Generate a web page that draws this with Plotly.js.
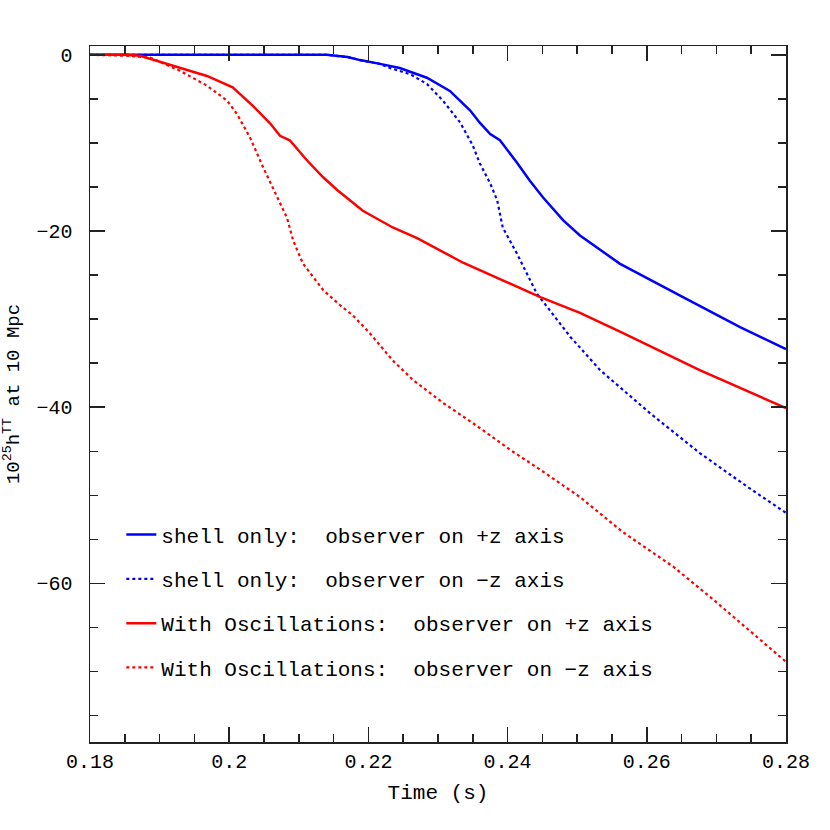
<!DOCTYPE html>
<html>
<head>
<meta charset="utf-8">
<script src="https://cdn.plot.ly/plotly-3.0.1.min.js"></script>
<style>html,body{margin:0;padding:0;background:#fff;}#chart{width:830px;height:830px;}</style>
</head>
<body>
<div id="chart"></div>
<script>
// Time (s) and 10^25 h^TT at 10 Mpc
const shellPlusT = [0.180,0.200,0.2140,0.2170,0.2188,0.2215,0.2245,0.2284,0.2317,0.2346,0.2360,0.2375,0.2389,0.2413,0.2432,0.2451,0.2480,0.2504,0.2561,0.2652,0.2734,0.2800];
const shellPlusV = [0,0,0,-0.25,-0.6,-1.0,-1.5,-2.6,-4.1,-6.3,-7.7,-9.0,-9.7,-12.2,-14.3,-16.2,-18.8,-20.5,-23.7,-27.5,-30.9,-33.4];

const shellMinusT = [0.180,0.200,0.2140,0.2170,0.2188,0.2215,0.2231,0.2260,0.2284,0.2307,0.2332,0.2350,0.2360,0.2375,0.2385,0.2393,0.2413,0.2442,0.2490,0.2533,0.2605,0.2676,0.2744,0.2800];
const shellMinusV = [0,0,0,-0.25,-0.6,-1.0,-1.5,-2.2,-3.3,-5.2,-7.7,-10.3,-12.3,-14.6,-16.5,-19.6,-22.5,-27.1,-32.0,-35.8,-40.7,-45.2,-49.0,-52.0];

const oscPlusT = [0.180,0.1850,0.1872,0.1919,0.1968,0.2005,0.2034,0.2059,0.2073,0.2087,0.2112,0.2135,0.2156,0.2192,0.2235,0.2270,0.2336,0.2393,0.2447,0.2504,0.2566,0.2676,0.2800];
const oscPlusV = [0,0,-0.1,-1.2,-2.4,-3.7,-5.8,-7.8,-9.2,-9.7,-12.0,-13.9,-15.4,-17.7,-19.6,-20.8,-23.6,-25.6,-27.5,-29.3,-31.6,-35.8,-40.1];

const oscMinusT = [0.180,0.1850,0.1886,0.1929,0.1968,0.1997,0.2011,0.2030,0.2049,0.2069,0.2083,0.2092,0.2106,0.2135,0.2159,0.2178,0.2202,0.2235,0.2264,0.2307,0.2350,0.2403,0.2447,0.2504,0.2566,0.2638,0.2695,0.2800];
const oscMinusV = [0,-0.1,-0.3,-1.8,-3.5,-5.2,-6.7,-9.4,-12.8,-16.2,-18.5,-21.1,-23.7,-26.7,-28.4,-29.6,-31.6,-34.7,-36.9,-39.5,-41.8,-44.8,-47.1,-50.2,-54.2,-58.1,-61.8,-68.9];

const seriesNames = [
  "shell only:  observer on +z axis",
  "shell only:  observer on \u2212z axis",
  "With Oscillations:  observer on +z axis",
  "With Oscillations:  observer on \u2212z axis"
];
const xTickVals = [0.18,0.2,0.22,0.24,0.26,0.28];
const xTickText = ["0.18","0.2","0.22","0.24","0.26","0.28"];
const yTickVals = [0,-20,-40,-60];
const yTickText = ["0","\u221220","\u221240","\u221260"];

const mono = "Liberation Mono, DejaVu Sans Mono, monospace";

const traces = [
  {x: shellPlusT, y: shellPlusV, name: seriesNames[0], legendgroup:"a", line:{color:"#0000ff", width:2.5}},
  {x: shellMinusT, y: shellMinusV, name: seriesNames[1], legendgroup:"b", line:{color:"#0000ff", width:2.2, dash:"dot"}},
  {x: oscPlusT, y: oscPlusV, name: seriesNames[2], legendgroup:"c", line:{color:"#ff0000", width:2.5}},
  {x: oscMinusT, y: oscMinusV, name: seriesNames[3], legendgroup:"d", line:{color:"#ff0000", width:2.2, dash:"dot"}}
].map(t => Object.assign({type:"scatter", mode:"lines"}, t));

const axisCommon = {
  showgrid:false, zeroline:false,
  showline:true, linecolor:"#222", linewidth:1.5, mirror:"allticks",
  ticks:"inside", ticklen:15, tickwidth:1.5, tickcolor:"#222",
  tickfont:{family:mono, size:20, color:"#000"}
};

const layout = {
  width:830, height:830,
  margin:{l:90, r:44, t:46, b:88},
  paper_bgcolor:"#fff", plot_bgcolor:"#fff",
  showlegend:true,
  legend:{x:0.045, y:0.327, xanchor:"left", yanchor:"top", bgcolor:"rgba(0,0,0,0)",
          font:{family:mono, size:21, color:"#000"}, tracegroupgap:14, itemwidth:30},
  xaxis: Object.assign({}, axisCommon, {
    range:[0.18,0.28], tickvals:xTickVals, ticktext:xTickText,
    minor:{ticks:"inside", ticklen:8, tickwidth:1.5, tickcolor:"#222", dtick:0.005, tick0:0.18},
    title:{text:"Time (s)", font:{family:mono, size:21, color:"#000"}, standoff:12}
  }),
  yaxis: Object.assign({}, axisCommon, {
    range:[-78,1], tickvals:yTickVals, ticktext:yTickText, ticklabelstandoff:12,
    minor:{ticks:"inside", ticklen:8, tickwidth:1.5, tickcolor:"#222", dtick:5, tick0:0},
    title:{text:"10<sup>25</sup>h<sup>TT</sup> at 10 Mpc", font:{family:mono, size:19, color:"#000"}, standoff:14}
  })
};

Plotly.newPlot("chart", traces, layout, {displayModeBar:false, staticPlot:true});
</script>
</body>
</html>
